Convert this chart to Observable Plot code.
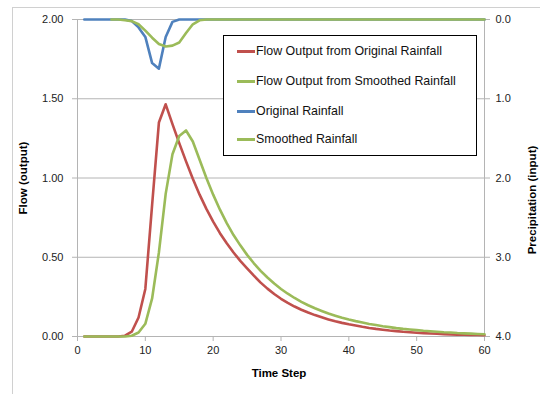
<!DOCTYPE html>
<html>
<head>
<meta charset="utf-8">
<script src="https://cdn.jsdelivr.net/npm/d3@7"></script>
<script src="https://cdn.jsdelivr.net/npm/@observablehq/plot@0.6"></script>
<style>
  html, body { margin: 0; padding: 0; background: #fff; }
  #wrap { position: relative; width: 540px; height: 394px; overflow: hidden; font-family: "Liberation Sans", Arial, sans-serif; }
  #frame { position: absolute; left: 12px; top: 7px; width: 600px; height: 500px; border-left: 1px solid #d0d0d0; border-top: 1px solid #d0d0d0; }
  .title { position: absolute; font-weight: bold; font-size: 11.5px; color: #000; white-space: nowrap; }
  #legend { position: absolute; left: 223px; top: 35px; width: 252px; height: 119px; border: 1px solid #000; background: #fff; font-size: 12.4px; color: #111; }
  .row { position: absolute; left: 13px; height: 14px; display: flex; align-items: center; white-space: nowrap; }
  .sw { width: 18px; height: 3px; margin-right: 1px; }
  #chart { position: absolute; left: 0; top: 0; }
</style>
</head>
<body>
<div id="wrap">
  <div id="frame"></div>
  <div id="chart"></div>
  <div id="legend"></div>
  <div class="title" id="ylab" style="left:22.5px; top:178px; transform: translate(-50%,-50%) rotate(-90deg);">Flow (output)</div>
  <div class="title" id="y2lab" style="left:531.5px; top:200px; transform: translate(-50%,-50%) rotate(-90deg);">Precipitation (input)</div>
  <div class="title" id="xlab" style="left:279px; top:373px; transform: translate(-50%,-50%);">Time Step</div>
</div>
<script>
const steps = d3.range(1, 61);

const flowOriginal = [
  0, 0, 0, 0, 0, 0, 0.005, 0.03, 0.12, 0.30,
  0.83, 1.35, 1.465, 1.34, 1.22, 1.105, 0.995, 0.895, 0.805, 0.725,
  0.652, 0.588, 0.53, 0.477, 0.43, 0.384, 0.34, 0.302, 0.268, 0.238,
  0.212, 0.189, 0.169, 0.151, 0.135, 0.121, 0.108, 0.096, 0.086, 0.077,
  0.069, 0.061, 0.054, 0.048, 0.043, 0.038, 0.034, 0.030, 0.027, 0.024,
  0.021, 0.019, 0.017, 0.015, 0.013, 0.012, 0.011, 0.010, 0.009, 0.008
];

const flowSmoothed = [
  0, 0, 0, 0, 0, 0, 0, 0.005, 0.025, 0.08,
  0.24, 0.53, 0.90, 1.15, 1.265, 1.30, 1.23, 1.115, 1.00, 0.895,
  0.80, 0.715, 0.64, 0.575, 0.515, 0.462, 0.414, 0.372, 0.334, 0.30,
  0.27, 0.243, 0.219, 0.197, 0.178, 0.161, 0.145, 0.131, 0.118, 0.107,
  0.097, 0.088, 0.079, 0.072, 0.065, 0.059, 0.053, 0.048, 0.044, 0.040,
  0.036, 0.033, 0.030, 0.027, 0.025, 0.022, 0.020, 0.018, 0.016, 0.014
];

const rainOriginal = [
  0, 0, 0, 0, 0, 0, 0, 0.02, 0.10, 0.22,
  0.55, 0.62, 0.22, 0.03, 0, 0, 0, 0, 0, 0,
  0, 0, 0, 0, 0, 0, 0, 0, 0, 0,
  0, 0, 0, 0, 0, 0, 0, 0, 0, 0,
  0, 0, 0, 0, 0, 0, 0, 0, 0, 0,
  0, 0, 0, 0, 0, 0, 0, 0, 0, 0
];

const rainSmoothed = [
  null, null, null, null, 0, 0, 0.01, 0.02, 0.06, 0.14,
  0.23, 0.31, 0.34, 0.33, 0.29, 0.17, 0.06, 0.01, 0, 0,
  0, 0, 0, 0, 0, 0, 0, 0, 0, 0,
  0, 0, 0, 0, 0, 0, 0, 0, 0, 0,
  0, 0, 0, 0, 0, 0, 0, 0, 0, 0,
  0, 0, 0, 0, 0, 0, 0, 0, 0, 0
];

const seriesNames = [
  "Flow Output from Original Rainfall",
  "Flow Output from Smoothed Rainfall",
  "Original Rainfall",
  "Smoothed Rainfall"
];
const seriesColors = ["#C0504D", "#9BBB59", "#4F81BD", "#9BBB59"];

const flowTicks = [0, 0.5, 1, 1.5, 2];
const xTicks = [0, 10, 20, 30, 40, 50, 60];
const precipMax = 4; // right axis: 0 at top, 4 at bottom

// precipitation (secondary, inverted) mapped onto the flow scale
const p2y = p => 2 - p * 2 / precipMax;

const flowO = steps.map((t, i) => ({t, v: flowOriginal[i]}));
const flowS = steps.map((t, i) => ({t, v: flowSmoothed[i]}));
const rainO = steps.map((t, i) => ({t, v: rainOriginal[i]}));
const rainS = steps.map((t, i) => ({t, v: rainSmoothed[i]})).filter(d => d.v != null);

const gray = "#b4b4b4";
const chart = Plot.plot({
  width: 540,
  height: 394,
  marginLeft: 77,
  marginRight: 56,
  marginTop: 19,
  marginBottom: 58,
  style: {fontFamily: "'Liberation Sans', Arial, sans-serif", fontSize: "11px", color: "#222", background: "transparent"},
  x: {domain: [0, 60]},
  y: {domain: [0, 2]},
  marks: [
    Plot.ruleY(flowTicks.slice(1), {stroke: gray, strokeWidth: 1}),
    Plot.ruleX([0, 60], {stroke: gray, strokeWidth: 1}),
    Plot.ruleY([0], {stroke: gray, strokeWidth: 1}),
    Plot.axisX({ticks: xTicks, tickSize: 5, tickPadding: 5, stroke: gray, label: null, tickFormat: d3.format("d")}),
    Plot.axisY({ticks: flowTicks, tickSize: 5, tickPadding: 9, stroke: gray, label: null, tickFormat: d3.format(".2f")}),
    Plot.axisY({anchor: "right", ticks: flowTicks, tickSize: 5, tickPadding: 6, stroke: gray, label: null,
      tickFormat: v => ((2 - v) * precipMax / 2).toFixed(1)}),
    Plot.line(flowO, {x: "t", y: "v", stroke: seriesColors[0], strokeWidth: 2.6, strokeLinejoin: "round"}),
    Plot.line(flowS, {x: "t", y: "v", stroke: seriesColors[1], strokeWidth: 2.6, strokeLinejoin: "round"}),
    Plot.line(rainO, {x: "t", y: d => p2y(d.v), stroke: seriesColors[2], strokeWidth: 2.6, strokeLinejoin: "round"}),
    Plot.line(rainS, {x: "t", y: d => p2y(d.v), stroke: seriesColors[3], strokeWidth: 2.6, strokeLinejoin: "round"})
  ]
});
document.getElementById("chart").appendChild(chart);

const legend = document.getElementById("legend");
const rowTops = [8, 38, 68, 96];
seriesNames.forEach((name, i) => {
  const row = document.createElement("div");
  row.className = "row";
  row.style.top = rowTops[i] + "px";
  const sw = document.createElement("div");
  sw.className = "sw";
  sw.style.background = seriesColors[i];
  const tx = document.createElement("span");
  tx.textContent = name;
  row.appendChild(sw);
  row.appendChild(tx);
  legend.appendChild(row);
});
</script>
</body>
</html>
